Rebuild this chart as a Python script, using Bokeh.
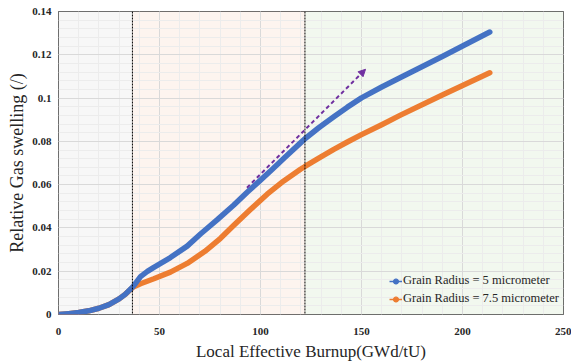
from bokeh.plotting import figure
from bokeh.models import (ColumnDataSource, Span, BoxAnnotation, Arrow, NormalHead,
                          FixedTicker, NumeralTickFormatter, Legend, LegendItem, Range1d)
from bokeh.embed import file_html
from bokeh.resources import INLINE

# ---- data ----
burnup_5 = [0, 5, 10, 15, 20, 25, 30, 33, 37, 40.6, 44, 47.2, 55.4, 63.7, 70.3, 78.5, 86.8,
            93.4, 99.2, 106, 112, 119.8, 122, 129, 136.3, 143, 150, 160, 169.3, 190, 201, 213.5]
swelling_5 = [0, 0.0004, 0.0009, 0.0017, 0.0029, 0.0046, 0.0072, 0.0093, 0.0130, 0.0175,
              0.0199, 0.0218, 0.0263, 0.0316, 0.0372, 0.0437, 0.0506, 0.0565, 0.0614,
              0.0672, 0.0725, 0.0793, 0.0812, 0.0864, 0.0914, 0.0958, 0.1001, 0.1051,
              0.1095, 0.1192, 0.1245, 0.1305]

burnup_75 = [0, 5, 10, 15, 20, 25, 30, 33, 37, 40.6, 47.2, 55.4, 63.7, 72.5, 80.2, 86.8,
             95, 103.3, 111.5, 119.8, 122, 129.7, 136.3, 143, 150, 160, 169.3, 190, 213.5]
swelling_75 = [0, 0.0004, 0.0009, 0.0017, 0.0029, 0.0046, 0.0072, 0.0093, 0.0127, 0.0142,
               0.0165, 0.0196, 0.0236, 0.0292, 0.0352, 0.0412, 0.0485, 0.0556, 0.0617,
               0.0671, 0.0684, 0.0727, 0.0763, 0.0797, 0.0831, 0.0877, 0.0921, 0.1014, 0.1117]

tangent_x = [93.3, 152.0]
tangent_y = [0.0586, 0.1133]

region_bounds = [0, 36.6, 122, 250]
region_colors = ["#f7f7f7", "#fdf4ef", "#f2f8ef"]

x_ticks = [0, 50, 100, 150, 200, 250]
y_ticks = [0, 0.02, 0.04, 0.06, 0.08, 0.10, 0.12, 0.14]
x_minor = list(range(0, 251, 10))
y_minor = [i * 0.004 for i in range(0, 36)]

labels = ["Grain Radius = 5 micrometer", "Grain Radius = 7.5 micrometer"]
colors = ["#4472C4", "#ED7D31"]

SERIF = "'Liberation Serif', 'Times New Roman', serif"

p = figure(width=571, height=363, output_backend="svg", toolbar_location=None,
           x_range=Range1d(0, 250), y_range=Range1d(0, 0.14),
           min_border_left=58, min_border_right=8, min_border_top=11, min_border_bottom=47)

p.background_fill_color = "white"
p.border_fill_color = "white"
p.outline_line_color = "#404040"
p.outline_line_width = 1

# shaded regions (under grid)
for i in range(3):
    p.add_layout(BoxAnnotation(left=region_bounds[i], right=region_bounds[i + 1],
                               fill_color=region_colors[i], fill_alpha=1.0,
                               line_color=None, level="image"))

# axes / ticks
p.xaxis.ticker = FixedTicker(ticks=x_ticks, minor_ticks=x_minor)
p.yaxis.ticker = FixedTicker(ticks=y_ticks, minor_ticks=y_minor)
p.yaxis.formatter = NumeralTickFormatter(format="0.[00]")
for ax in (p.xaxis, p.yaxis):
    ax.axis_line_color = None
    ax.major_tick_line_color = None
    ax.minor_tick_line_color = None
    ax.major_tick_out = 0
    ax.minor_tick_out = 0
    ax.major_label_text_font = SERIF
    ax.major_label_text_font_style = "bold"
    ax.major_label_text_font_size = "11px"
    ax.major_label_text_color = "#262626"
    ax.axis_label_text_font = SERIF
    ax.axis_label_text_font_style = "normal"
    ax.axis_label_text_color = "#262626"

p.xaxis.axis_label = "Local Effective Burnup(GWd/tU)"
p.xaxis.axis_label_text_font_size = "17px"
p.xaxis.major_label_standoff = 13
p.xaxis.axis_label_standoff = 4
p.yaxis.axis_label = "Relative Gas swelling (/)"
p.yaxis.axis_label_text_font_size = "18px"
p.yaxis.major_label_standoff = 7
p.yaxis.axis_label_standoff = 2

p.xgrid.grid_line_color = "#d9d9d9"
p.ygrid.grid_line_color = "#d9d9d9"
p.xgrid.minor_grid_line_color = "#ececec"
p.ygrid.minor_grid_line_color = "#ececec"

# region separators
for loc in region_bounds[1:3]:
    p.add_layout(Span(location=loc, dimension="height", line_color="black",
                      line_dash="2 1", line_width=1))

# curves
src5 = ColumnDataSource(dict(x=burnup_5, y=swelling_5))
src75 = ColumnDataSource(dict(x=burnup_75, y=swelling_75))
p.line("x", "y", source=src75, line_color=colors[1], line_width=5.5, line_cap="round", line_join="round")
p.line("x", "y", source=src5, line_color=colors[0], line_width=5.5, line_cap="round", line_join="round")

# tangent arrow
p.add_layout(Arrow(x_start=tangent_x[0], y_start=tangent_y[0], x_end=tangent_x[1], y_end=tangent_y[1],
                   line_color="#7030A0", line_width=2, line_dash="4 3",
                   end=NormalHead(size=7, fill_color="#7030A0", line_color="#7030A0")))

# legend proxies (nothing visible in the plot area)
nan = float("nan")
items = []
for lab, col in zip(labels, colors):
    lr = p.line("x", "y", source=ColumnDataSource(dict(x=[nan], y=[nan])),
                line_color=col, line_width=1.5)
    sr = p.scatter("x", "y", source=ColumnDataSource(dict(x=[nan], y=[nan])),
                   marker="circle", size=5, fill_color=col, line_color=col)
    items.append(LegendItem(label=lab, renderers=[lr, sr]))

legend = Legend(items=items, location=(331, 8))
legend.background_fill_alpha = 0
legend.border_line_color = None
legend.label_text_font = SERIF
legend.label_text_font_size = "12.5px"
legend.label_text_color = "#262626"
legend.glyph_width = 13
legend.glyph_height = 14
legend.label_standoff = 1
legend.spacing = 3
legend.padding = 2
legend.margin = 0
p.add_layout(legend)

open("out.html", "w").write(file_html(p, INLINE))
